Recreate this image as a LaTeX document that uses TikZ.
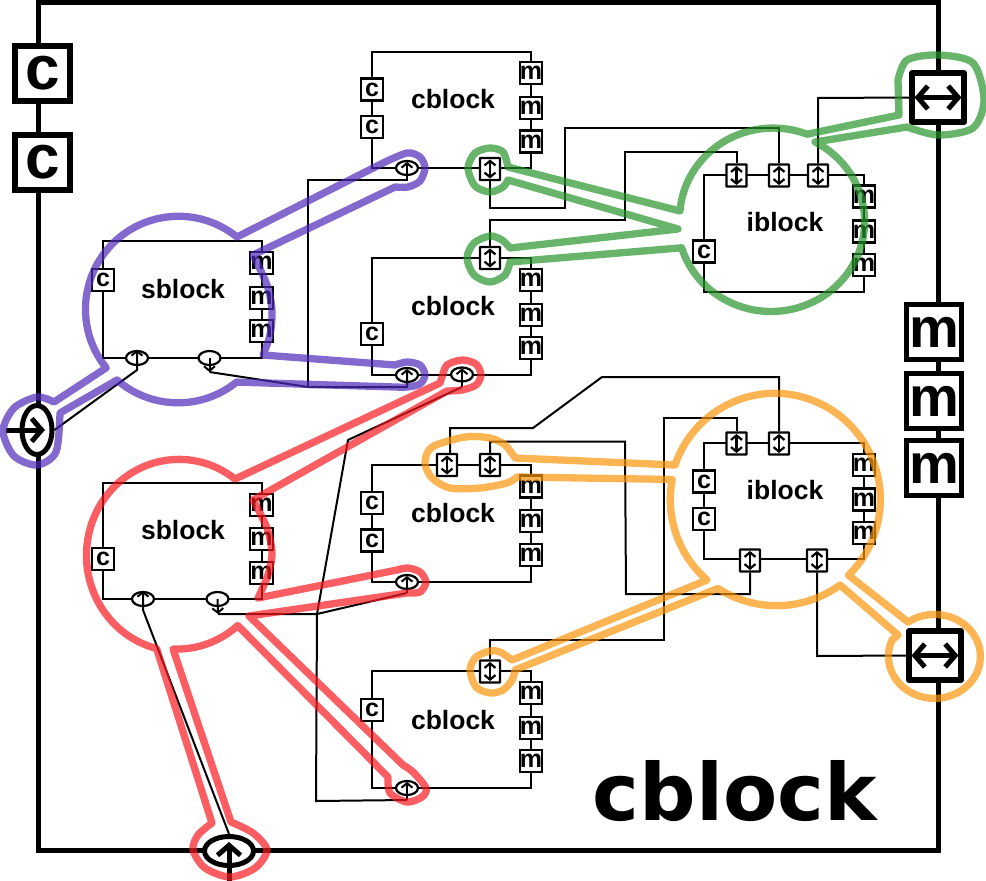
\documentclass[tikz,border=0pt]{standalone}
\usepackage{fontspec}
\setmainfont{Liberation Sans}
\newfontfamily\wideface{DejaVu Sans}
\usetikzlibrary{arrows.meta}
\usetikzlibrary{shapes.geometric}
\definecolor{BlobPurple}{RGB}{78,42,184}
\definecolor{BlobGreen}{RGB}{38,148,43}
\definecolor{BlobOrange}{RGB}{252,149,11}
\definecolor{BlobRed}{RGB}{248,26,33}
\tikzset{
  Frame/.style={draw,line width=5pt},
  Box/.style={draw,line width=2pt,minimum width=159pt,minimum height=116.5pt,inner sep=0pt}, % Blockrahmen
  Title/.style={font=\fontsize{26.5}{28}\selectfont\bfseries,inner sep=0pt},
  Port/.style={draw,fill=white,line width=2.2pt,inner sep=0pt,minimum width=22pt,minimum height=22pt,
    font=\fontsize{25}{25}\selectfont\bfseries},
  DPort/.style={Port,minimum width=20pt,minimum height=22pt,rounded corners=.5pt,
    path picture={\draw[line width=2.2pt,{Straight Barb[length=4.5pt,width=11pt]}-{Straight Barb[length=4.5pt,width=11pt]}]
      ([yshift=9.5pt]path picture bounding box.center) -- ([yshift=-9.5pt]path picture bounding box.center);}},
  Pin/.style={draw,fill=white,shape=ellipse,line width=2.2pt,inner sep=0pt,minimum width=22pt,minimum height=14pt},
  BigPort/.style={draw,fill=white,line width=5.5pt,inner sep=0pt,minimum width=55pt,minimum height=55pt},
  BigDPort/.style={BigPort,line width=6pt,line join=round,minimum width=52pt,minimum height=49pt,
    path picture={\draw[line width=5pt,{Straight Barb[length=10pt,width=23pt]}-{Straight Barb[length=10pt,width=23pt]}]
      ([xshift=-23.5pt]path picture bounding box.center) -- ([xshift=23.5pt]path picture bounding box.center);}},
  BigPin/.style={draw,fill=white,shape=ellipse,line width=5pt,inner sep=0pt},
  Wire/.style={draw,line width=2pt},
  PinWire/.style={Wire,-{Straight Barb[length=4.5pt,width=11pt]}}, % Leitung mit Pfeil
  BigArrow/.style={line width=5pt,-{Straight Barb[length=10pt,width=23pt]}},
  Blob/.style={draw=#1,line width=7.3pt,opacity=.7,line join=round}
}
\begin{document}
\begin{tikzpicture}[x=1pt,y=-1pt]
\useasboundingbox (0,0) rectangle (986,881);

%Outer block
\draw[Frame] (38.5,2.5) rectangle (938.5,850);
\node[font=\wideface\fontsize{79}{80}\selectfont\bfseries,inner sep=0pt] (OuterTitle) at (735,791) {cblock};
\node[BigPort,font=\fontsize{62}{62}\selectfont\bfseries] (OC1) at (42.5,73.5) {c};
\node[BigPort,font=\fontsize{62}{62}\selectfont\bfseries] (OC2) at (42.5,162.5) {c};
\node[BigPort,font=\fontsize{56}{56}\selectfont\bfseries] (OM1) at (934,332) {m};
\node[BigPort,font=\fontsize{56}{56}\selectfont\bfseries] (OM2) at (934,401) {m};
\node[BigPort,font=\fontsize{56}{56}\selectfont\bfseries] (OM3) at (934,468) {m};
\node[BigDPort] (OD1) at (938,97.5) {};
\node[BigDPort] (OD2) at (935,655.5) {};
\node[BigPin,minimum width=30pt,minimum height=49pt] (OL) at (37,430) {};
\node[BigPin,minimum width=49pt,minimum height=29pt] (OB) at (229,851) {};
\coordinate (OLs) at (6,430);
\coordinate (OBs) at (229,881);
\draw[BigArrow] (OLs) -- (OL.center) -- +(8,0);
\draw[BigArrow] (OBs) -- (OB.center) -- +(0,-9);

%cblock 1
\node[Box] (CB1) at (451.5,110) {};
\node[Title] (CB1t) at (453,99) {cblock};
\node[Port] (CB1c1) at (372,89.5) {c};
\node[Port] (CB1c2) at (372,127) {c};
\node[Port] (CB1m1) at (531,73) {m};
\node[Port] (CB1m2) at (531,108) {m};
\node[Port] (CB1m3) at (531,141.5) {m};
\node[DPort] (CB1d) at (490,169) {};
\node[Pin] (CB1e) at (407,168) {};

%cblock 2
\node[Box] (CB2) at (451.5,316.5) {};
\node[Title] (CB2t) at (453,306) {cblock};
\node[Port] (CB2c1) at (372,334) {c};
\node[Port] (CB2m1) at (531,280) {m};
\node[Port] (CB2m2) at (531,315) {m};
\node[Port] (CB2m3) at (531,348) {m};
\node[DPort] (CB2d) at (490,258) {};
\node[Pin] (CB2e) at (407,375) {};
\node[Pin] (CB2f) at (462,374.5) {};

%cblock 3
\node[Box] (CB3) at (451.5,523.5) {};
\node[Title] (CB3t) at (453,513) {cblock};
\node[Port] (CB3c1) at (372,503) {c};
\node[Port] (CB3c2) at (372,540.5) {c};
\node[Port] (CB3m1) at (531,486.5) {m};
\node[Port] (CB3m2) at (531,521) {m};
\node[Port] (CB3m3) at (531,555) {m};
\node[DPort] (CB3d1) at (447,465) {};
\node[DPort] (CB3d2) at (490,465) {};
\node[Pin] (CB3e) at (407,582) {};

%cblock 4
\node[Box] (CB4) at (451.5,729.5) {};
\node[Title] (CB4t) at (453,720) {cblock};
\node[Port] (CB4c1) at (372,710) {c};
\node[Port] (CB4m1) at (531,693) {m};
\node[Port] (CB4m2) at (531,728) {m};
\node[Port] (CB4m3) at (531,761) {m};
\node[DPort] (CB4d) at (490,671.5) {};
\node[Pin] (CB4e) at (407,788) {};

%sblock 1
\node[Box] (SB1) at (182.5,299.5) {};
\node[Title] (SB1t) at (183,289) {sblock};
\node[Port] (SB1c) at (103,280) {c};
\node[Port] (SB1m1) at (261.5,263) {m};
\node[Port] (SB1m2) at (261.5,298) {m};
\node[Port] (SB1m3) at (261.5,331) {m};
\node[Pin] (SB1a) at (137,358) {};
\node[Pin] (SB1b) at (209.5,358) {};

%sblock 2
\node[Box] (SB2) at (182.5,541) {};
\node[Title] (SB2t) at (183,530) {sblock};
\node[Port] (SB2c) at (103,559) {c};
\node[Port] (SB2m1) at (261.5,505) {m};
\node[Port] (SB2m2) at (261.5,539) {m};
\node[Port] (SB2m3) at (261.5,573) {m};
\node[Pin] (SB2a) at (143,599) {};
\node[Pin] (SB2b) at (217.5,599) {};

%iblock 1
\node[Box,minimum width=160pt] (IB1) at (784,233.5) {};
\node[Title] (IB1t) at (785,222) {iblock};
\node[DPort] (IB1a) at (736.5,175.5) {};
\node[DPort] (IB1b) at (779,175.5) {};
\node[DPort] (IB1d) at (818,175.5) {};
\node[Port] (IB1c) at (704,251.5) {c};
\node[Port] (IB1m1) at (864,196.5) {m};
\node[Port] (IB1m2) at (864,231.5) {m};
\node[Port] (IB1m3) at (864,265) {m};

%iblock 2
\node[Box,minimum width=160pt] (IB2) at (784,501) {};
\node[Title] (IB2t) at (785,490) {iblock};
\node[DPort] (IB2a) at (736.5,443.5) {};
\node[DPort] (IB2b) at (779,443.5) {};
\node[DPort] (IB2e) at (750,560.5) {};
\node[DPort] (IB2f) at (817,560.5) {};
\node[Port] (IB2c1) at (704,481.5) {c};
\node[Port] (IB2c2) at (704,519) {c};
\node[Port] (IB2m1) at (864,465) {m};
\node[Port] (IB2m2) at (864,499.5) {m};
\node[Port] (IB2m3) at (864,533) {m};

%Wires
\coordinate (SB1aW) at (137,370);
\coordinate (SB1bW) at (209.5,372);
\coordinate (CB1eW) at (407,180);
\coordinate (Up1) at (308,180);
\coordinate (Up2) at (308,387);
\draw[PinWire] (OL.east) -- (SB1aW) -- (SB1a.north);
\draw[PinWire] (SB1b.center) -- (SB1bW);
\draw[PinWire] (SB1bW) -- (Up2) -| ([yshift=-2pt]CB2e.north);
\draw[PinWire] (Up2) -- (Up1) -| ([yshift=-2pt]CB1e.north);

\coordinate (SB2aW) at (143,610);
\coordinate (SB2bW) at (218,614);
\coordinate (Lo1) at (317,614);
\coordinate (Lo2) at (348,440);
\coordinate (Lo3) at (316,801);
\coordinate (CB2fW) at (462,387);
\coordinate (CB3eW) at (407,593);
\coordinate (CB4eW) at (407,800);
\draw[PinWire] (OB.north) -- (SB2aW) -- (SB2a.north);
\draw[PinWire] (SB2b.center) -- (SB2bW);
\draw[Wire] (SB2bW) -- (Lo1) -- (Lo3) -- (CB4eW);
\draw[PinWire] (CB4eW) -- ([yshift=-2pt]CB4e.north);
\draw[Wire] (Lo1) -- (CB3eW);
\draw[PinWire] (CB3eW) -- ([yshift=-2pt]CB3e.north);
\draw[Wire] (Lo1) -- (Lo2) -- (CB2fW);
\draw[PinWire] (CB2fW) -- ([yshift=-2pt]CB2f.north);

\coordinate (A1) at (565,208);
\coordinate (A2) at (565,128);
\draw[Wire] (CB1d.south) |- (A1) -- (A2) -| (IB1b.north);
\coordinate (B1) at (625,220);
\coordinate (B2) at (625,152);
\draw[Wire] (CB2d.north) |- (B1) -- (B2) -| (IB1a.north);
\coordinate (C1) at (818,98);
\draw[Wire] (IB1d.north) -- (C1) -- (OD1.west);

\coordinate (D1) at (664,417.5);
\coordinate (D2) at (664,640);
\draw[Wire] (IB2a.north) |- (D1) -- (D2) -| (CB4d.north);
\coordinate (E1) at (602,377);
\coordinate (E2) at (533,428);
\coordinate (E3) at (450,428);
\coordinate (E4) at (450,453);
\draw[Wire] (IB2b.north) |- (E1) -- (E2) -- (E3) -- (E4);
\coordinate (F1) at (490,441.5);
\coordinate (F2) at (625,441.5);
\coordinate (F3) at (626,594);
\draw[Wire] (CB3d2.north) -- (F1) -- (F2) -- (F3) -| (IB2e.south);
\coordinate (G1) at (817,656);
\draw[Wire] (IB2f.south) -- (G1) -- (OD2.west);

%Purple
\draw[Blob=BlobPurple] (237,237) arc[start angle=-51,end angle=-219,radius=93]
  -- plot[smooth] coordinates {(54,402) (37,397) (14,408) (3,431) (14,456) (37,465) (56,452) (60,413)}
  -- (117,380) arc[start angle=-229,end angle=-309,radius=93]
  -- plot[smooth] coordinates {(395,387) (407,387) (420,384) (425,375) (420,365) (407,362) (395,365)}
  -- plot[smooth] coordinates {(263,355) (270,335) (272,310) (267,285) (253,255)}
  -- plot[smooth] coordinates {(395,187) (408,187) (420,181) (425,168) (420,157) (407,153) (383,163)}
  -- cycle;

%Green
\draw[Blob=BlobGreen] (680,211) arc[start angle=184.5,end angle=291.3,x radius=93.5,y radius=90]
  -- (899,115) -- plot[smooth] coordinates {(898,80) (907,60) (938,55) (973,63) (984,100) (973,128) (938,135) (907,127)}
  -- (815,142) arc[start angle=-62,end angle=163,x radius=93.5,y radius=90]
  -- plot[smooth] coordinates {(510,262) (505,275) (490,282) (474,275) (467,258) (474,243) (490,236) (502,240) (510,248)}
  -- (678,229)
  -- plot[smooth] coordinates {(508,180) (503,187) (490,192) (475,186) (468,168) (475,153) (490,148) (503,152) (508,167)}
  -- cycle;

%Orange
\draw[Blob=BlobOrange] (675,465) arc[start angle=198.9,end angle=405.7,x radius=105.5,y radius=106]
  -- (908,622) arc[start angle=235,end angle=563,x radius=46,y radius=42]
  -- (898,635) -- (840,585) arc[start angle=53.8,end angle=123,x radius=107.5,y radius=107]
  -- plot[smooth] coordinates {(515,670) (512,680) (503,690) (490,693) (476,687) (470,670) (476,657) (490,651) (500,652) (512,660)}
  -- (707,580) arc[start angle=131.2,end angle=190.8,x radius=107.5,y radius=107]
  -- plot[smooth] coordinates {(517,477) (507,483) (480,488) (450,488) (432,478) (425,463) (432,447) (465,437) (490,438) (505,445) (515,458)}
  -- cycle;

%Red
\draw[Blob=BlobRed] (235,479) arc[start angle=-52.7,end angle=-256,x radius=92.5,y radius=96]
  -- plot[smooth] coordinates {(212,823) (198,835) (193,850) (205,868) (230,877) (255,868) (267,850) (253,833) (231,822)}
  -- (173,649) arc[start angle=92.5,end angle=49,x radius=92.5,y radius=96]
  -- plot[smooth] coordinates {(388,777) (390,793) (407,802) (422,797) (426,788) (413,772) (403,765)}
  -- (249,616)
  -- plot[smooth] coordinates {(407,593) (420,592) (426,582) (420,572) (408,568) (397,570)}
  -- plot[smooth] coordinates {(258,598) (268,575) (272,553) (267,528) (253,500)}
  -- plot[smooth] coordinates {(447,391) (462,390) (476,385) (481,375) (476,364) (462,360) (447,365) (442,377) (440,383)}
  -- cycle;
\end{tikzpicture}
\end{document}
